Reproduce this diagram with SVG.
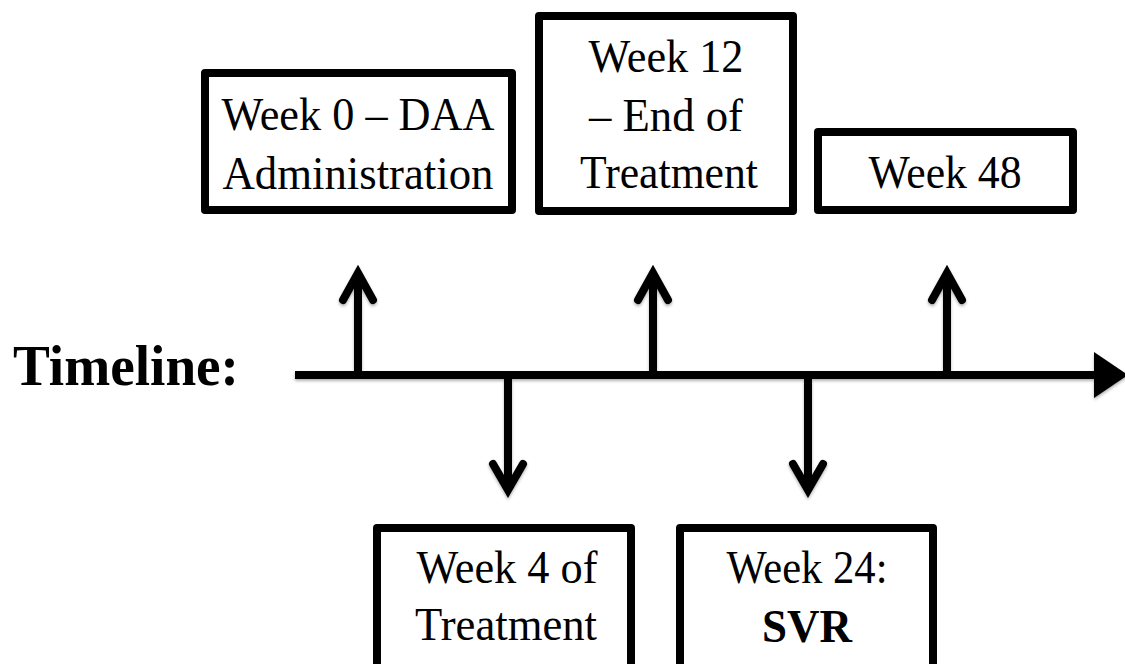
<svg xmlns="http://www.w3.org/2000/svg" width="1125" height="664" viewBox="0 0 1125 664">
  <style>
    .box { fill: #ffffff; stroke: #000000; stroke-width: 8; stroke-linejoin: round; }
    .lbl { font-family: "Liberation Serif", "Times New Roman", serif; font-size: 46px; fill: #000000; text-anchor: middle; }
    .bold { font-weight: bold; }
    .ln { fill: none; stroke: #000000; stroke-width: 8; }
    .head { fill: none; stroke: #000000; stroke-width: 8; stroke-linecap: round; stroke-linejoin: miter; }
  </style>
  <defs>
    <filter id="sh" x="-10%" y="-10%" width="120%" height="130%">
      <feDropShadow dx="0" dy="2" stdDeviation="1.5" flood-color="#000000" flood-opacity="0.3"/>
    </filter>
  </defs>
  <rect width="1125" height="664" fill="#ffffff"/>

  <g id="timeline-label">
    <text class="lbl bold" x="126" y="385" font-size="56" textLength="226" lengthAdjust="spacingAndGlyphs" style="font-size:56px">Timeline:</text>
  </g>

  <g id="connectors" filter="url(#sh)">
    <line class="ln" x1="295" y1="375" x2="1096" y2="375"/>
    <polygon points="1094,352 1094,398 1128,375" fill="#000000"/>
    <!-- up arrows -->
    <line class="ln" x1="358" y1="375" x2="358" y2="274"/>
    <path class="head" d="M343,300 L358,273 L373,300"/>
    <line class="ln" x1="653" y1="375" x2="653" y2="274"/>
    <path class="head" d="M638,300 L653,273 L668,300"/>
    <line class="ln" x1="947" y1="375" x2="947" y2="274"/>
    <path class="head" d="M932,300 L947,273 L962,300"/>
    <!-- down arrows -->
    <line class="ln" x1="508" y1="375" x2="508" y2="489"/>
    <path class="head" d="M493,464 L508,490 L523,464"/>
    <line class="ln" x1="808" y1="375" x2="808" y2="489"/>
    <path class="head" d="M793,464 L808,490 L823,464"/>
  </g>

  <g id="week0">
    <rect class="box" x="205" y="73" width="307" height="137"/>
    <text class="lbl" x="358" y="130" textLength="273" lengthAdjust="spacingAndGlyphs">Week 0 – DAA</text>
    <text class="lbl" x="358" y="189" textLength="271" lengthAdjust="spacingAndGlyphs">Administration</text>
  </g>

  <g id="week12">
    <rect class="box" x="539" y="16" width="254" height="195"/>
    <text class="lbl" x="666" y="72" textLength="155" lengthAdjust="spacingAndGlyphs">Week 12</text>
    <text class="lbl" x="666" y="131" textLength="154" lengthAdjust="spacingAndGlyphs">– End of</text>
    <text class="lbl" x="669" y="188" textLength="178" lengthAdjust="spacingAndGlyphs">Treatment</text>
  </g>

  <g id="week48">
    <rect class="box" x="818" y="132" width="255" height="78"/>
    <text class="lbl" x="945" y="188" textLength="153" lengthAdjust="spacingAndGlyphs">Week 48</text>
  </g>

  <g id="week4">
    <rect class="box" x="377" y="528" width="254" height="150"/>
    <text class="lbl" x="507" y="583" textLength="181" lengthAdjust="spacingAndGlyphs">Week 4 of</text>
    <text class="lbl" x="506" y="640" textLength="182" lengthAdjust="spacingAndGlyphs">Treatment</text>
  </g>

  <g id="week24">
    <rect class="box" x="680" y="528" width="253" height="150"/>
    <text class="lbl" x="807" y="583" textLength="161" lengthAdjust="spacingAndGlyphs">Week 24:</text>
    <text class="lbl bold" x="807" y="642" textLength="90" lengthAdjust="spacingAndGlyphs">SVR</text>
  </g>
</svg>
